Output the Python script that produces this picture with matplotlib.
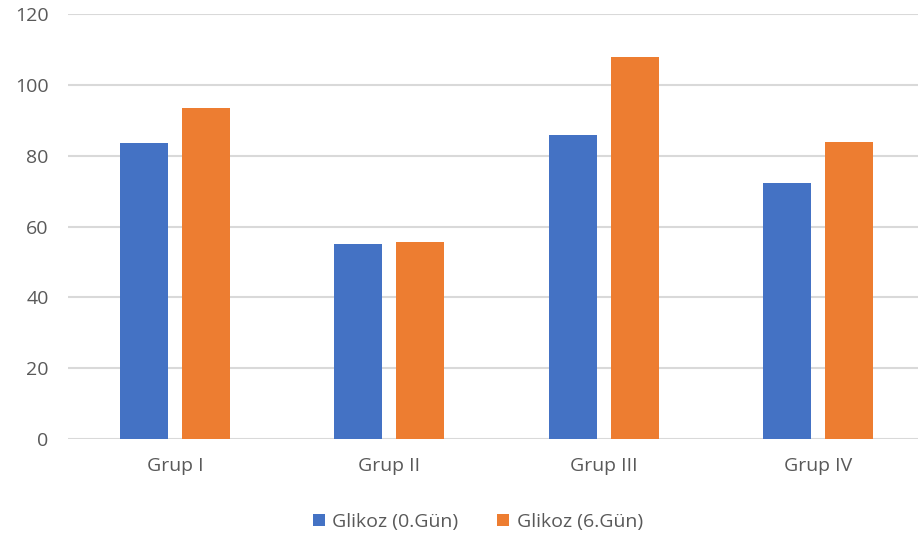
import matplotlib
matplotlib.use("Agg")
import matplotlib.pyplot as plt
import numpy as np

categories = ["Grup I", "Grup II", "Grup III", "Grup IV"]
series_names = ["Glikoz (0.Gün)", "Glikoz (6.Gün)"]
day0 = [83.5, 55.1, 85.8, 72.2]
day6 = [93.6, 55.7, 107.8, 84.0]
yticks = [0, 20, 40, 60, 80, 100, 120]

colors = ["#4472C4", "#ED7D31"]

plt.rcParams['font.family'] = ['Open Sans', 'DejaVu Sans']

fig = plt.figure(figsize=(9.18, 5.45), dpi=100)
W, H = 918, 545
left, right = 68, 925
top, bottom = 14, 439
ax = fig.add_axes([left / W, 1 - bottom / H, (right - left) / W, (bottom - top) / H])

x = np.arange(len(categories))
bw = 0.224
off = 0.145
ax.bar(x - off, day0, width=bw, color=colors[0], label=series_names[0], zorder=3)
ax.bar(x + off, day6, width=bw, color=colors[1], label=series_names[1], zorder=3)

ax.set_xlim(-0.5, 3.5)
ax.set_ylim(0, 120)
ax.set_yticks(yticks)
ax.set_xticks(x)
ax.set_xticklabels(categories)
ax.yaxis.grid(True, color="#d9d9d9", linewidth=1.5, zorder=0)
for s in ax.spines.values():
    s.set_visible(False)
ax.tick_params(axis="both", length=0, labelsize=14, colors="#595959")
ax.tick_params(axis="y", pad=14)
ax.tick_params(axis="x", pad=13)

leg = fig.legend(loc="center", bbox_to_anchor=(478 / W, 1 - 522 / H), ncol=2, frameon=False,
                 fontsize=14, handlelength=0.6, handleheight=0.6, columnspacing=2.0, handletextpad=0.4)
for t in leg.get_texts():
    t.set_color("#595959")

fig.savefig("out.png", dpi=100)
